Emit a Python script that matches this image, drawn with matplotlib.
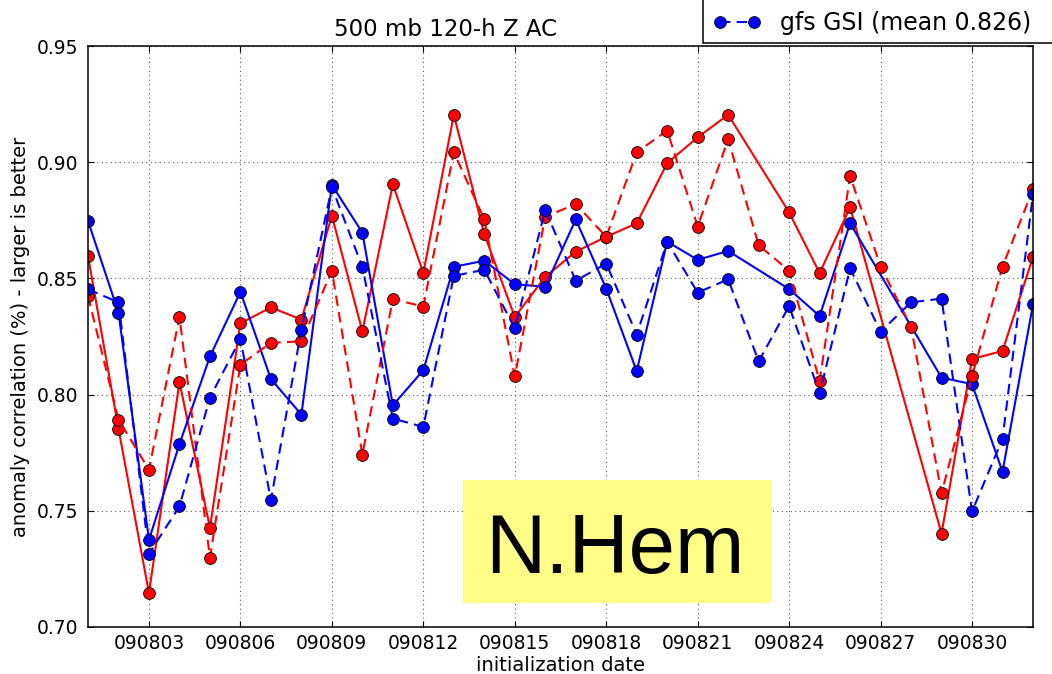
import numpy as np
import matplotlib
matplotlib.use('Agg')
from matplotlib import pyplot as plt
from matplotlib.patches import Rectangle
from matplotlib.legend_handler import HandlerLine2D

# initialization day in Aug 2009 (32 -> 090901)
days = list(range(1, 33))

# values; None = no forecast that day
red_solid = [0.8596, 0.7853, 0.7146, 0.8054, 0.7427, 0.8307, 0.8375, 0.8323,
             0.8770, 0.8272, 0.8905, 0.8523, 0.9204, 0.8691, 0.8334, 0.8507,
             0.8615, 0.8679, 0.8737, 0.8996, 0.9107, 0.9204, None, 0.8784,
             0.8523, 0.8806, None, None, 0.7402, 0.8153, 0.8188, 0.8592]
red_dash = [0.8424, 0.7892, 0.7677, 0.8335, 0.7299, 0.8129, 0.8223, 0.8229,
            0.8533, 0.7742, 0.8411, 0.8379, 0.9043, 0.8754, 0.8078, 0.8765,
            0.8820, 0.8679, 0.9043, 0.9136, 0.8723, 0.9099, 0.8643, 0.8533,
            0.8058, 0.8941, 0.8551, 0.8292, 0.7575, 0.8078, 0.8551, 0.8884]
blue_solid = [0.8747, 0.8353, 0.7375, 0.7787, 0.8164, 0.8442, 0.8067, 0.7914,
              0.8902, 0.8697, 0.7954, 0.8105, 0.8550, 0.8576, 0.8475, 0.8464,
              0.8754, 0.8456, 0.8101, 0.8658, 0.8580, 0.8618, None, 0.8454,
              0.8338, 0.8737, None, None, 0.8073, 0.8045, 0.7668, 0.8388]
blue_dash = [0.8453, 0.8397, 0.7315, 0.7519, 0.7987, 0.8240, 0.7546, 0.8280,
             0.8892, 0.8550, 0.7897, 0.7861, 0.8511, 0.8537, 0.8285, 0.8794,
             0.8490, 0.8564, 0.8258, 0.8658, 0.8439, 0.8496, 0.8143, 0.8381,
             0.8005, 0.8543, 0.8271, 0.8397, 0.8413, 0.7497, 0.7810, 0.8862]

xtick_days = list(range(3, 31, 3))
xtick_labels = ['0908%02d' % d for d in xtick_days]
yticks = [0.70, 0.75, 0.80, 0.85, 0.90, 0.95]


def valid(xs, ys):
    # skip missing days, line joins across the gap like the original
    pts = [(x, y) for x, y in zip(xs, ys) if y is not None]
    return [p[0] for p in pts], [p[1] for p in pts]


plt.rcParams['font.family'] = 'DejaVu Sans'
fig = plt.figure(figsize=(10.52, 6.74), dpi=100)
fig.patch.set_facecolor('white')
ax = fig.add_axes([88/1052, 1-627/674, (1033-88)/1052, (627-46)/674])

mk = dict(marker='o', markersize=8.5, markeredgecolor='k', markeredgewidth=0.6, lw=1.5)
dash = (0, (5, 3))
x, y = valid(days, red_solid)
ax.plot(x, y, color='r', ls='-', **mk)
x, y = valid(days, blue_solid)
ax.plot(x, y, color='b', ls='-', **mk)
x, y = valid(days, red_dash)
ax.plot(x, y, color='r', ls=dash, **mk)
x, y = valid(days, blue_dash)
gsi, = ax.plot(x, y, color='b', ls=dash, **mk)

ax.set_xlim(1, 32)
ax.set_ylim(0.70, 0.95)
ax.set_xticks(xtick_days)
ax.set_xticklabels(xtick_labels)
ax.set_yticks(yticks)
ax.set_yticklabels(['%.2f' % v for v in yticks])
ax.tick_params(direction='in', length=4, width=0.8, top=True, right=True, labelsize=13.5)
ax.tick_params(axis='y', pad=7)
ax.tick_params(axis='x', pad=5)
ax.grid(True, color='0.35', linestyle=(0, (1, 3)), linewidth=0.8)
for s in ax.spines.values():
    s.set_linewidth(1.1)

ax.set_xlabel('initialization date', fontsize=14, labelpad=2)
ax.set_ylabel('anomaly correlation (%) - larger is better', fontsize=14, labelpad=5)

fig.text(446/1052, 1-36/674, '500 mb 120-h Z AC', fontsize=16.5, ha='center', va='baseline')

# legend box, clipped by the figure edge like the original
fig.add_artist(Rectangle((703/1052, 1-43.3/674), 0.5, 0.2, transform=fig.transFigure,
                         facecolor='white', edgecolor='k', lw=1.1, zorder=-1))
mean_gsi = np.mean(blue_dash)
leg = ax.legend([gsi], ['gfs GSI (mean %.3f)' % mean_gsi], loc='center left',
                bbox_to_anchor=(720/1052, 1-23/674), bbox_transform=fig.transFigure,
                frameon=False, borderpad=0, borderaxespad=0, fontsize=17,
                handlelength=1.45, handletextpad=1.1, numpoints=2,
                handler_map={gsi: HandlerLine2D(marker_pad=0, numpoints=2)})
leg.set_zorder(10)

# yellow label box
fig.add_artist(Rectangle((462.7/1052, 1-602.7/674), 308.3/1052, 122.7/674,
                         transform=fig.transFigure, facecolor='#ffff88', edgecolor='none'))
fig.text(615.3/1052, 1-572.7/674, 'N.Hem', fontsize=60, family='Liberation Sans',
         ha='center', va='baseline')

fig.savefig('out.png', dpi=100)
